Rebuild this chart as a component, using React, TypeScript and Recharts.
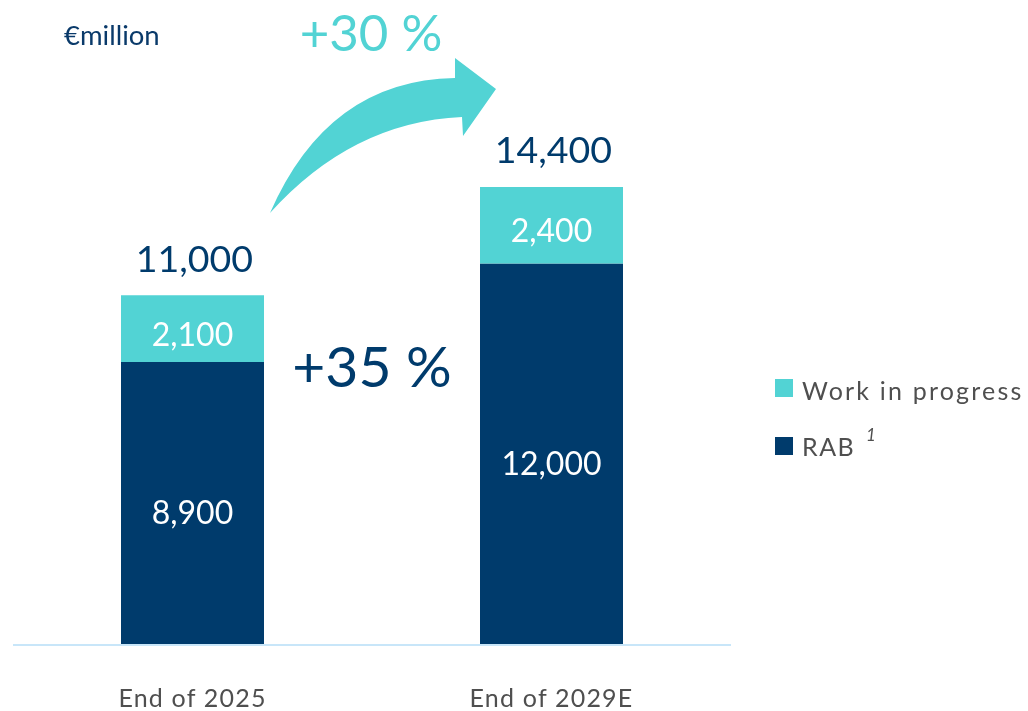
import { BarChart, Bar, XAxis, YAxis, LabelList, Legend, Customized } from "recharts";

const categories = ["End of 2025", "End of 2029E"];
const rabValues = [8900, 12000];
const wipValues = [2100, 2400];
const totalValues = [11000, 14400];

const NAVY = "#003b6c";
const TEAL = "#52d3d4";
const GREY = "#4f4f4f";
const FONT = "Lato, 'Open Sans', sans-serif";

const data = categories.map((name, i) => ({
  name,
  rab: rabValues[i],
  wip: wipValues[i],
  total: totalValues[i],
}));

const fmt = (v: number) => Number(v).toLocaleString("en-US");

const innerLabel = (dy: number) => (props: any) => {
  const { x, y, width, height, value } = props;
  return (
    <text
      x={Number(x) + Number(width) / 2}
      y={Number(y) + Number(height) / 2 + dy}
      textAnchor="middle"
      fill="#ffffff"
      fontSize={32}
      fontFamily={FONT}
    >
      {fmt(value)}
    </text>
  );
};

const totalLabel = (props: any) => {
  const { x, y, width, value } = props;
  return (
    <text
      x={Number(x) + Number(width) / 2 + 2}
      y={Number(y) - 23.6}
      textAnchor="middle"
      fill={NAVY}
      fontSize={37.5}
      fontFamily={FONT}
    >
      {fmt(value)}
    </text>
  );
};

const AxisTick = (props: any) => {
  const { x, y, payload } = props;
  return (
    <text
      x={x}
      y={y + 54}
      textAnchor="middle"
      fill={GREY}
      fontSize={25}
      letterSpacing={1.2}
      fontFamily={FONT}
    >
      {payload.value}
    </text>
  );
};

const LegendBox = () => (
  <svg width={260} height={100}>
    <rect x={1} y={9} width={18} height={18} fill={TEAL} />
    <text x={28} y={30} fontSize={25} fill={GREY} fontFamily={FONT} letterSpacing={2.2}>
      Work in progress
    </text>
    <rect x={1} y={67} width={18} height={18} fill={NAVY} />
    <text x={28} y={86} fontSize={25} fill={GREY} fontFamily={FONT} letterSpacing={1.5}>
      RAB
    </text>
    <text x={92} y={71} fontSize={17} fontStyle="italic" fill={GREY} fontFamily={FONT}>
      1
    </text>
  </svg>
);

const Annotations = () => (
  <g>
    <text x={64} y={45} fontSize={27.5} fill="#0a3a6a" fontFamily={FONT}>
      €million
    </text>
    <text x={371} y={51} textAnchor="middle" fontSize={51} fill={TEAL} fontFamily={FONT}>
      +30 %
    </text>
    <text x={372} y={387} textAnchor="middle" fontSize={57} fill={NAVY} fontFamily={FONT}>
      +35 %
    </text>
    <path
      d="M 270 213 Q 328 80 455 78 L 455 58 L 496 89 L 463 136 L 462 117 Q 352 122 270 213 Z"
      fill={TEAL}
    />
  </g>
);

export default function App() {
  return (
    <div style={{ position: "fixed", left: 0, top: 0, width: 1028, height: 711 }}>
      <BarChart
        width={1028}
        height={711}
        data={data}
        margin={{ top: 9, right: 297, bottom: 0, left: 13 }}
      >
        <XAxis
          dataKey="name"
          height={66}
          tickLine={false}
          axisLine={{ stroke: "#c8e6f9", strokeWidth: 2 }}
          tick={<AxisTick />}
        />
        <YAxis hide domain={[0, 20000]} />
        <Bar dataKey="rab" stackId="a" fill={NAVY} barSize={143} isAnimationActive={false}>
          <LabelList dataKey="rab" content={innerLabel(20.5)} />
        </Bar>
        <Bar dataKey="wip" stackId="a" fill={TEAL} barSize={143} isAnimationActive={false}>
          <LabelList dataKey="wip" content={innerLabel(17)} />
          <LabelList dataKey="total" content={totalLabel} />
        </Bar>
        <Legend
          layout="vertical"
          align="center"
          verticalAlign="middle"
          content={<LegendBox />}
          wrapperStyle={{ left: 774, top: 370, width: 260 }}
        />
        <Customized component={<Annotations />} />
      </BarChart>
    </div>
  );
}
